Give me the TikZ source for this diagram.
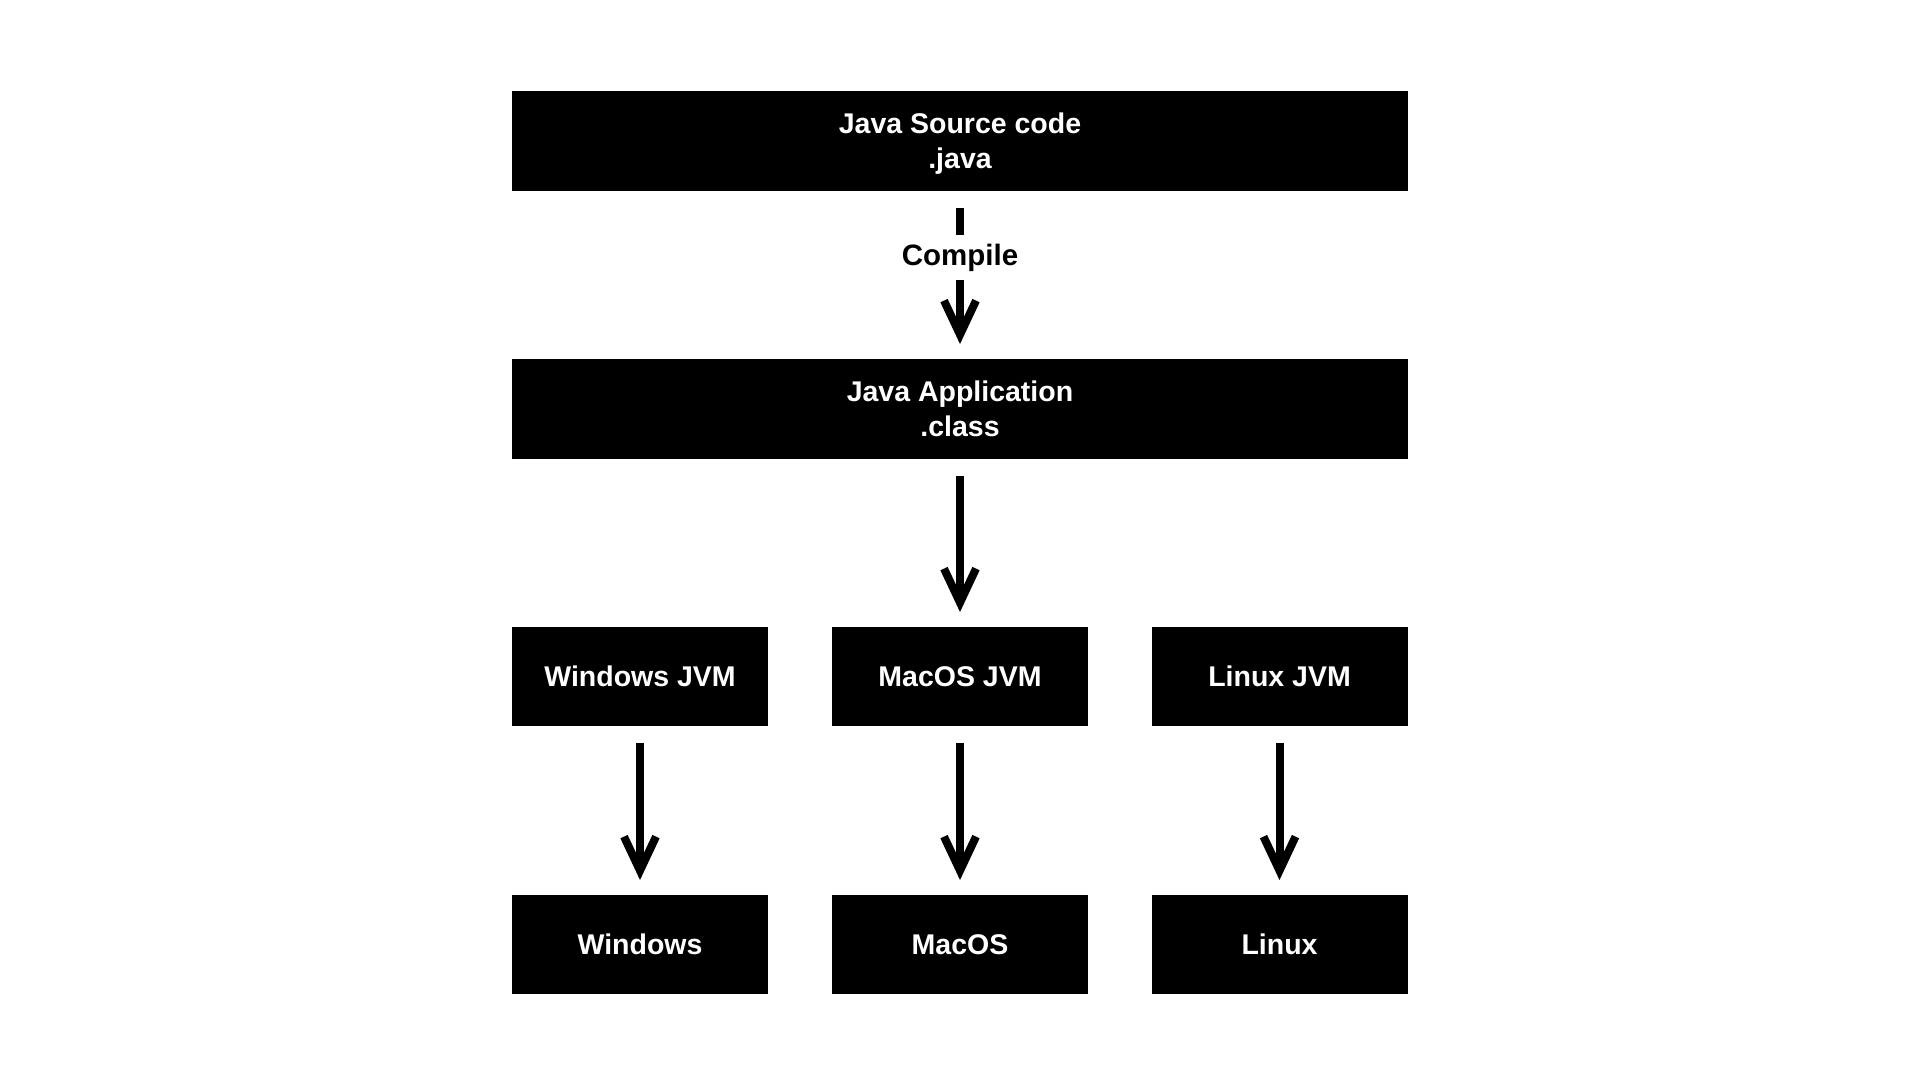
\documentclass[tikz,border=0pt]{standalone}
\usepackage{fontspec}
\setmainfont{Liberation Sans}
\usetikzlibrary{arrows.meta}

\begin{document}
\begin{tikzpicture}[x=1pt, y=-1pt,
    ->, >={Straight Barb[length=34pt, width=32pt]},
    line width=8pt,
    box/.style = {rectangle,
                  fill = black,
                  text = white,
                  align = center,
                  inner sep = 0pt,
                  font = \bfseries\fontsize{28.5}{35}\selectfont},
    wide/.style = {box, text depth = 0pt,
                   minimum width = 896pt, minimum height = 100pt},
    small/.style = {box, minimum width = 256pt, minimum height = 99pt}
    ]

    \useasboundingbox (0,0) rectangle (1920,1080);

    \node[wide] (src) at (960,141) {Java Source code\\.java};

    \node[wide] (app) at (960,409) {Java Application\\.class};

    \node[small] (winjvm) at (640,676.5) {Windows JVM};
    \node[small] (macjvm) at (960,676.5) {MacOS JVM};
    \node[small] (linjvm) at (1279.5,676.5) {Linux JVM};

    \node[small] (win) at (640,944.5) {Windows};
    \node[small] (mac) at (960,944.5) {MacOS};
    \node[small] (lin) at (1279.5,944.5) {Linux};

    \path[shorten <=13pt, shorten >=11pt,
          every node/.style={fill=white, inner xsep=4pt, inner ysep=9pt,
                             font=\bfseries\fontsize{29.5}{35}\selectfont}]
    %compile step
    (src) edge [] node [pos=0.39] {Compile} (app)
    %class to jvm
    (app) edge [] (macjvm)
    %jvm to os
    (winjvm) edge [] (win)
    (macjvm) edge [] (mac)
    (linjvm) edge [] (lin) ;

\end{tikzpicture}
\end{document}
